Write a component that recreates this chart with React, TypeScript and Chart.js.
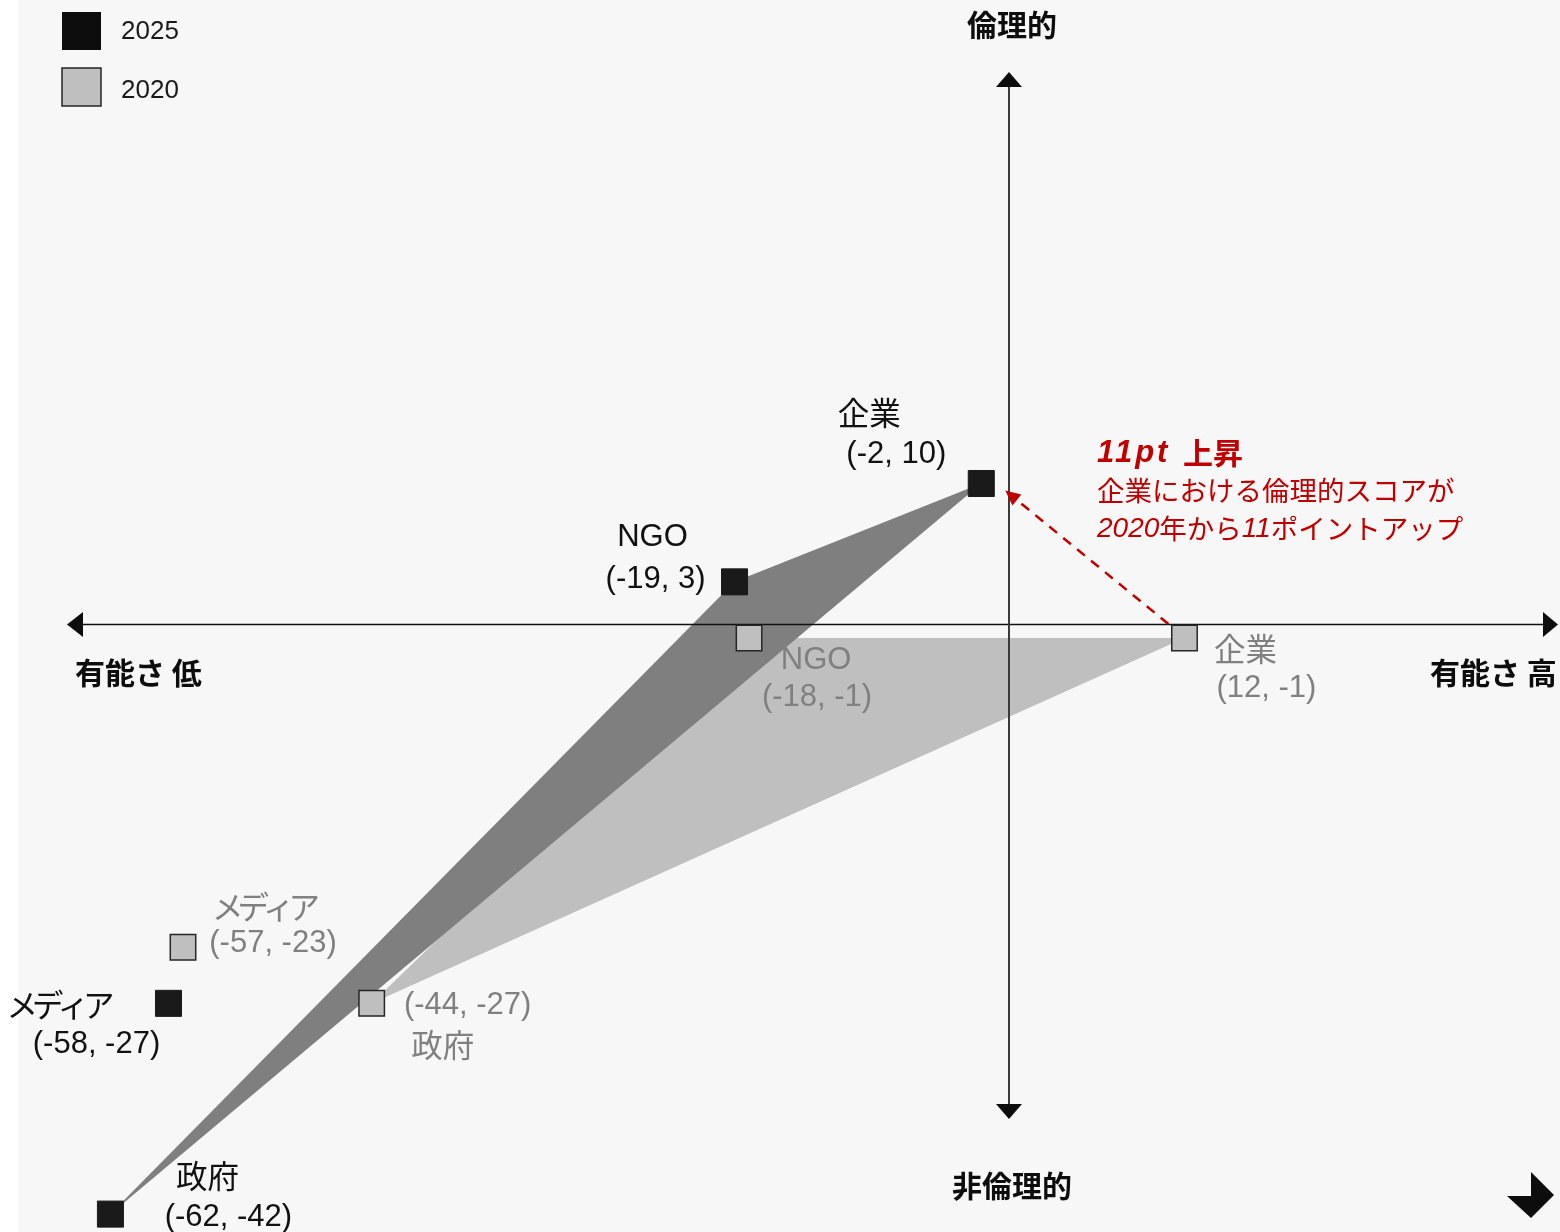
import React, { useEffect, useRef } from 'react';
import { Chart, registerables } from 'chart.js';

Chart.register(...registerables);

// ---------- data ----------
const categories = ['企業', 'NGO', 'メディア', '政府'];
const competence2025 = [-2, -19, -58, -62];
const ethics2025 = [10, 3, -27, -42];
const competence2020 = [12, -18, -57, -44];
const ethics2020 = [-1, -1, -23, -27];
const triangleMembers = ['企業', 'NGO', '政府'];
const seriesNames = ['2025', '2020'];

const axisTop = '倫理的';
const axisBottom = '非倫理的';
const axisLeft = '有能さ 低';
const axisRight = '有能さ 高';

const annotTitle = ['11pt', '上昇'];
const annotLine2 = '企業における倫理的スコアが';
const annotLine3: [string, boolean][] = [
  ['2020', true],
  ['年から', false],
  ['11', true],
  ['ポイントアップ', false],
];

// ---------- layout / style ----------
const W = 1560;
const H = 1232;
const PX_X = 14.514;
const PX_Y = 14.05;
const X0 = 1010.3;
const Y0 = 624;
const X_MIN = -X0 / PX_X;
const X_MAX = (W - X0) / PX_X;
const Y_MAX = Y0 / PX_Y;
const Y_MIN = -(H - Y0) / PX_Y;

const C_DARK_POLY = '#7f7f7f';
const C_LIGHT_POLY = '#bfbfbf';
const C_2025 = '#1a1a1a';
const C_2020 = '#bfbfbf';
const C_2020_BORDER = '#262626';
const C_LABEL_2025 = '#111111';
const C_LABEL_2020 = '#808080';
const C_RED = '#c00000';

const LATIN = '"Liberation Sans", "Noto Sans CJK JP", sans-serif';
const CJK = '"Noto Sans CJK JP", "Liberation Sans", sans-serif';

const labelLayout2025 = [
  { name: [-112, -70], coord: [-85, -29] },
  { name: [-82, -44], coord: [-79, -2] },
  { name: [-111, 2], coord: [-72, 41] },
  { name: [97, -38], coord: [118, 3] },
];
const labelLayout2020 = [
  { name: [61, 11], coord: [82, 50] },
  { name: [67, 22], coord: [68, 59] },
  { name: [80, -40], coord: [90, -4] },
  { name: [71, 42], coord: [96, 2] },
];

const points2025 = categories.map((_, i) => ({ x: competence2025[i], y: ethics2025[i] }));
const points2020 = categories.map((_, i) => ({ x: competence2020[i], y: ethics2020[i] }));

function polygon(pts: { x: number; y: number }[]) {
  const idx = triangleMembers.map((m) => categories.indexOf(m));
  const poly = idx.map((i) => pts[i]);
  return [...poly, poly[0]];
}

function text(
  ctx: CanvasRenderingContext2D,
  s: string,
  x: number,
  y: number,
  font: string,
  color: string,
  align: CanvasTextAlign = 'left',
  spacing = '0px'
) {
  ctx.save();
  ctx.font = font;
  ctx.fillStyle = color;
  ctx.textAlign = align;
  ctx.textBaseline = 'middle';
  (ctx as any).letterSpacing = spacing;
  ctx.fillText(s, x, y);
  const w = ctx.measureText(s).width;
  ctx.restore();
  return w;
}

const diagramPlugin = {
  id: 'diagram',
  beforeDraw(chart: any) {
    const ctx = chart.ctx as CanvasRenderingContext2D;
    ctx.save();
    ctx.fillStyle = '#ffffff';
    ctx.fillRect(0, 0, W, H);
    ctx.fillStyle = '#f7f7f7';
    ctx.fillRect(18, 0, W - 18, H);
    ctx.restore();
  },
  afterDatasetDraw(chart: any, args: any) {
    if (args.index !== 2) return;
    const ctx = chart.ctx as CanvasRenderingContext2D;
    const xs = chart.scales.x;
    const ys = chart.scales.y;
    const ax = Math.floor(xs.getPixelForValue(0)) - 1;
    const ay = ys.getPixelForValue(0) + 0.5;
    ctx.save();
    // horizontal axis
    ctx.strokeStyle = '#111111';
    ctx.lineWidth = 1.5;
    ctx.beginPath();
    ctx.moveTo(80, ay);
    ctx.lineTo(1545, ay);
    ctx.stroke();
    // vertical axis
    ctx.strokeStyle = '#3a3a3a';
    ctx.lineWidth = 2;
    ctx.beginPath();
    ctx.moveTo(ax, 85);
    ctx.lineTo(ax, 1106);
    ctx.stroke();
    ctx.fillStyle = '#0d0d0d';
    const tri = (a: number[], b: number[], c: number[]) => {
      ctx.beginPath();
      ctx.moveTo(a[0], a[1]);
      ctx.lineTo(b[0], b[1]);
      ctx.lineTo(c[0], c[1]);
      ctx.closePath();
      ctx.fill();
    };
    tri([67, ay], [83, ay - 12.5], [83, ay + 12.5]);
    tri([1558, ay], [1543, ay - 12.5], [1543, ay + 12.5]);
    tri([ax, 72], [ax - 13, 87], [ax + 13, 87]);
    tri([ax, 1119], [ax - 13, 1104], [ax + 13, 1104]);
    ctx.restore();
  },
  afterDatasetsDraw(chart: any) {
    const ctx = chart.ctx as CanvasRenderingContext2D;
    const xs = chart.scales.x;
    const ys = chart.scales.y;

    // point labels
    const drawLabels = (pts: { x: number; y: number }[], layout: any[], color: string) => {
      pts.forEach((p, i) => {
        const px = xs.getPixelForValue(p.x);
        const py = ys.getPixelForValue(p.y);
        const name = categories[i];
        const isKana = /^[\u30A0-\u30FF]+$/.test(name);
        const nameFont = /^[A-Za-z]+$/.test(name) ? `31px ${LATIN}` : `31.5px ${CJK}`;
        text(ctx, name, px + layout[i].name[0], py + layout[i].name[1], nameFont, color, 'center', isKana ? '-6px' : '0px');
        text(ctx, `(${p.x}, ${p.y})`, px + layout[i].coord[0], py + layout[i].coord[1], `31px ${LATIN}`, color, 'center');
      });
    };
    drawLabels(points2025, labelLayout2025, C_LABEL_2025);
    drawLabels(points2020, labelLayout2020, C_LABEL_2020);

    // axis titles
    const bold = `bold 30px ${CJK}`;
    text(ctx, axisTop, 1012, 25, bold, '#0d0d0d', 'center');
    text(ctx, axisBottom, 1012, 1186, bold, '#0d0d0d', 'center');
    text(ctx, axisLeft, 75, 673, bold, '#0d0d0d', 'left');
    text(ctx, axisRight, 1430, 673, bold, '#0d0d0d', 'left');

    // legend
    ctx.save();
    ctx.fillStyle = '#0d0d0d';
    ctx.fillRect(62, 12, 39, 38);
    ctx.fillStyle = C_2020;
    ctx.fillRect(62, 68, 39, 38);
    ctx.strokeStyle = C_2020_BORDER;
    ctx.lineWidth = 1.5;
    ctx.strokeRect(62, 68, 39, 38);
    ctx.restore();
    text(ctx, seriesNames[0], 121, 32, `26px ${LATIN}`, '#1a1a1a');
    text(ctx, seriesNames[1], 121, 91, `26px ${LATIN}`, '#1a1a1a');

    // red dashed arrow from 2020 企業 to 2025 企業
    const i = categories.indexOf('企業');
    const sx = xs.getPixelForValue(points2020[i].x) - 16;
    const sy = ys.getPixelForValue(points2020[i].y) - 14;
    const ex = xs.getPixelForValue(points2025[i].x) + 24;
    const ey = ys.getPixelForValue(points2025[i].y) + 7;
    const ang = Math.atan2(ey - sy, ex - sx);
    const headLen = 15;
    ctx.save();
    ctx.strokeStyle = C_RED;
    ctx.lineWidth = 2.5;
    ctx.setLineDash([10, 8]);
    ctx.beginPath();
    ctx.moveTo(sx, sy);
    ctx.lineTo(ex - Math.cos(ang) * headLen * 0.8, ey - Math.sin(ang) * headLen * 0.8);
    ctx.stroke();
    ctx.setLineDash([]);
    ctx.fillStyle = C_RED;
    ctx.beginPath();
    ctx.moveTo(ex, ey);
    ctx.lineTo(ex - Math.cos(ang) * headLen + Math.sin(ang) * 7, ey - Math.sin(ang) * headLen - Math.cos(ang) * 7);
    ctx.lineTo(ex - Math.cos(ang) * headLen - Math.sin(ang) * 7, ey - Math.sin(ang) * headLen + Math.cos(ang) * 7);
    ctx.closePath();
    ctx.fill();
    ctx.restore();

    // annotation text
    text(ctx, annotTitle[0], 1097, 453, `italic bold 31px ${LATIN}`, C_RED, 'left', '3px');
    text(ctx, annotTitle[1], 1183, 453, `bold 30px ${CJK}`, C_RED, 'left');
    text(ctx, annotLine2, 1097, 491, `27.5px ${CJK}`, C_RED, 'left');
    let cx = 1097;
    annotLine3.forEach(([s, it]) => {
      cx += text(ctx, s, cx, 529, it ? `italic 28px ${LATIN}` : `27.5px ${CJK}`, C_RED, 'left');
    });

    // corner mark
    ctx.save();
    ctx.fillStyle = '#0d0d0d';
    ctx.beginPath();
    ctx.moveTo(1531, 1172);
    ctx.lineTo(1554, 1195);
    ctx.lineTo(1531, 1218);
    ctx.lineTo(1507, 1196);
    ctx.lineTo(1531, 1196);
    ctx.closePath();
    ctx.fill();
    ctx.restore();
  },
};

export default function App() {
  const ref = useRef<HTMLCanvasElement>(null);
  useEffect(() => {
    if (!ref.current) return;
    const chart = new Chart(ref.current, {
      type: 'scatter',
      data: {
        datasets: [
          {
            label: seriesNames[0],
            data: points2025,
            pointStyle: 'rect',
            pointRadius: 18.4,
            pointBackgroundColor: C_2025,
            pointBorderColor: C_2025,
            pointBorderWidth: 1,
            clip: false,
          } as any,
          {
            label: seriesNames[1],
            data: points2020,
            pointStyle: 'rect',
            pointRadius: 18,
            pointBackgroundColor: C_2020,
            pointBorderColor: C_2020_BORDER,
            pointBorderWidth: 1.5,
            clip: false,
          } as any,
          {
            type: 'line',
            label: seriesNames[0] + ' area',
            data: polygon(points2025),
            showLine: true,
            fill: 'shape',
            backgroundColor: C_DARK_POLY,
            borderColor: 'rgba(0,0,0,0)',
            borderWidth: 0,
            pointRadius: 0,
            tension: 0,
            clip: false,
          } as any,
          {
            type: 'line',
            label: seriesNames[1] + ' area',
            data: polygon(points2020),
            showLine: true,
            fill: 'shape',
            backgroundColor: C_LIGHT_POLY,
            borderColor: 'rgba(0,0,0,0)',
            borderWidth: 0,
            pointRadius: 0,
            tension: 0,
            clip: false,
          } as any,
        ],
      },
      options: {
        responsive: false,
        maintainAspectRatio: false,
        animation: false,
        events: [],
        layout: { padding: 0, autoPadding: false },
        plugins: {
          legend: { display: false },
          tooltip: { enabled: false },
        },
        scales: {
          x: { type: 'linear', display: false, min: X_MIN, max: X_MAX },
          y: { type: 'linear', display: false, min: Y_MIN, max: Y_MAX },
        },
      } as any,
      plugins: [diagramPlugin],
    });
    return () => chart.destroy();
  }, []);
  return (
    <div style={{ position: 'absolute', left: 0, top: 0, width: W, height: H }}>
      <canvas ref={ref} width={W} height={H} style={{ display: 'block', width: W, height: H }} />
    </div>
  );
}
